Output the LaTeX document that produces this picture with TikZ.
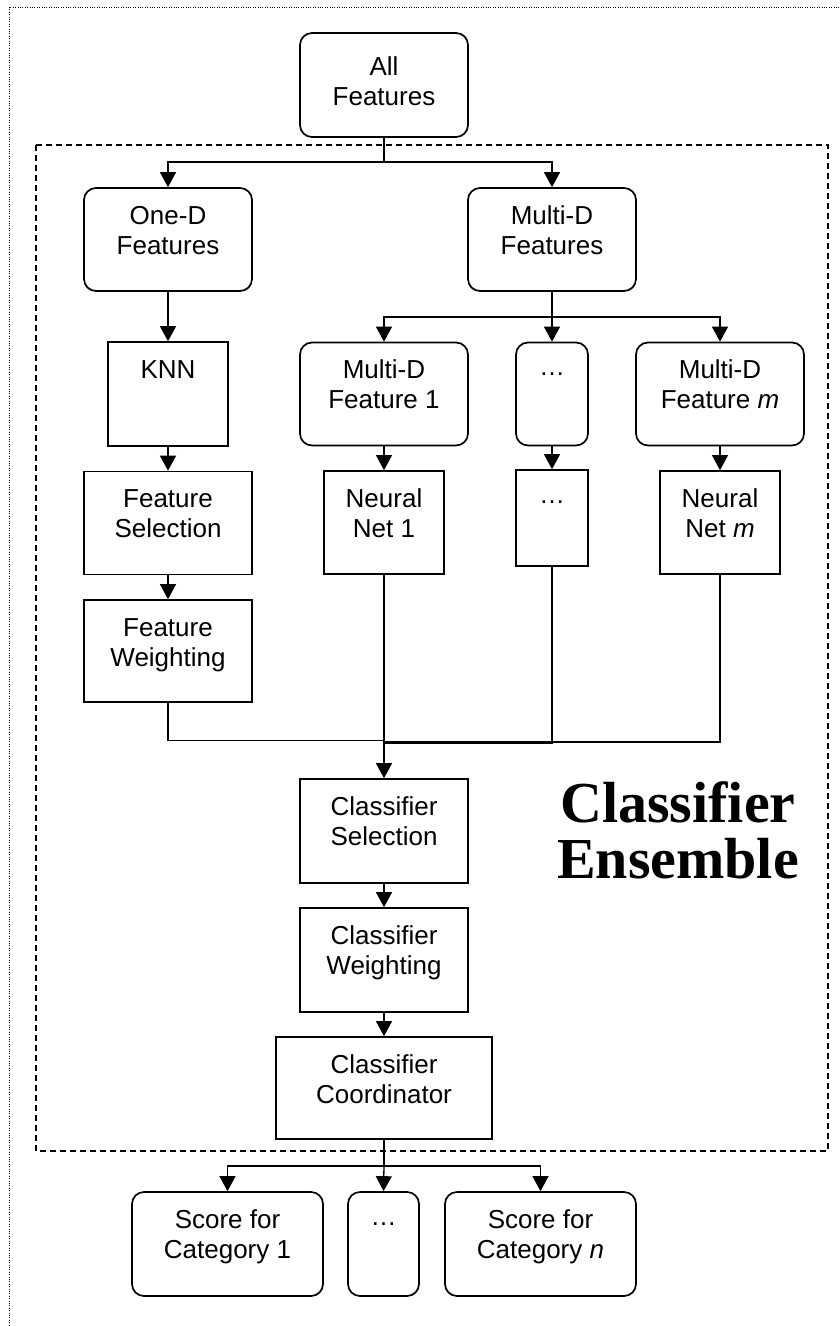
\documentclass[tikz,border=0pt]{standalone}
\usepackage{fontspec}
\setmainfont{Liberation Sans}
\newfontfamily\timesbf{Liberation Serif}[BoldFont={Liberation Serif Bold}]
\usetikzlibrary{arrows.meta,calc}
\newcommand\tl[1]{\begin{tabular}[t]{@{}c@{}}#1\end{tabular}}
\begin{document}
\begin{tikzpicture}[x=1pt,y=-1pt,
  every node/.style={inner sep=0pt},
  sqbox/.style={draw, line width=1.7pt},
  rbox/.style={draw, line width=1.7pt, rounded corners=12pt},
  txt/.style={anchor=base, font=\fontsize{26}{30}\selectfont},
  conn/.style={line width=1.3pt},
  arr/.style={line width=1.3pt, -{Triangle[length=15pt,width=16pt]}}
]
\useasboundingbox (0,0) rectangle (840,1326);
% outer dotted frame (cropped at right and bottom)
\draw[line width=0.9pt, dash pattern=on 1pt off 1.4pt] (9,1340) -- (9,7) -- (850,7);
% dashed ensemble frame
\draw[line width=1.2pt, dash pattern=on 6pt off 4pt] (36,145) rectangle (828,1151);

% boxes
\node[rbox, minimum width=168pt, minimum height=104pt] (af) at (384,85) {};
\node[rbox, minimum width=168pt, minimum height=103pt] (od) at (168,239.5) {};
\node[rbox, minimum width=168pt, minimum height=103pt] (md) at (552,239.5) {};
\node[sqbox, minimum width=120pt, minimum height=104pt] (knn) at (168,394) {};
\node[rbox, minimum width=168pt, minimum height=103pt] (mf1) at (384,394) {};
\node[rbox, minimum width=72pt, minimum height=103pt] (mfd) at (552,394) {};
\node[rbox, minimum width=168pt, minimum height=103pt] (mfm) at (720,394) {};
\node[sqbox, minimum width=168pt, minimum height=103pt] (fs) at (168,523) {};
\node[sqbox, minimum width=120pt, minimum height=103pt] (nn1) at (384,522.5) {};
\node[sqbox, minimum width=72pt, minimum height=96pt] (nnd) at (552,518) {};
\node[sqbox, minimum width=120pt, minimum height=103pt] (nnm) at (720,522.5) {};
\node[sqbox, minimum width=168pt, minimum height=102pt] (fw) at (168,651) {};
\node[sqbox, minimum width=168pt, minimum height=104pt] (cs) at (384,831) {};
\node[sqbox, minimum width=168pt, minimum height=104pt] (cw) at (384,960) {};
\node[sqbox, minimum width=216pt, minimum height=102pt] (cc) at (384,1088) {};
\node[rbox, minimum width=191pt, minimum height=104pt] (s1) at (227.5,1244) {};
\node[rbox, minimum width=71pt, minimum height=104pt] (sd) at (383.5,1244) {};
\node[rbox, minimum width=191pt, minimum height=104pt] (sn) at (540.5,1244) {};

% texts (first baseline about 37 below box top)
\node[txt] (af-t) at ($(af.north)+(0,43)$) {\tl{All\\Features}};
\node[txt] (od-t) at ($(od.north)+(0,37)$) {\tl{One-D\\Features}};
\node[txt] (md-t) at ($(md.north)+(0,37)$) {\tl{Multi-D\\Features}};
\node[txt] (knn-t) at ($(knn.north)+(0,37)$) {\tl{KNN}};
\node[txt] (mf1-t) at ($(mf1.north)+(0,37)$) {\tl{Multi-D\\Feature 1}};
\node[txt] (mfd-t) at ($(mfd.north)+(0,34)$) {\tl{…}};
\node[txt] (mfm-t) at ($(mfm.north)+(0,37)$) {\tl{Multi-D\\Feature \textit{m}}};
\node[txt] (fs-t) at ($(fs.north)+(0,37)$) {\tl{Feature\\Selection}};
\node[txt] (nn1-t) at ($(nn1.north)+(0,37)$) {\tl{Neural\\Net 1}};
\node[txt] (nnd-t) at ($(nnd.north)+(0,34)$) {\tl{…}};
\node[txt] (nnm-t) at ($(nnm.north)+(0,37)$) {\tl{Neural\\Net \textit{m}}};
\node[txt] (fw-t) at ($(fw.north)+(0,37)$) {\tl{Feature\\Weighting}};
\node[txt] (cs-t) at ($(cs.north)+(0,37)$) {\tl{Classifier\\Selection}};
\node[txt] (cw-t) at ($(cw.north)+(0,37)$) {\tl{Classifier\\Weighting}};
\node[txt] (cc-t) at ($(cc.north)+(0,37)$) {\tl{Classifier\\Coordinator}};
\node[txt] (s1-t) at ($(s1.north)+(0,37)$) {\tl{Score for\\Category 1}};
\node[txt] (sd-t) at ($(sd.north)+(0,34)$) {\tl{…}};
\node[txt] (sn-t) at ($(sn.north)+(0,37)$) {\tl{Score for\\Category \textit{n}}};

% big label
\node[anchor=base, font=\timesbf\bfseries\fontsize{58}{54}\selectfont] (ens) at (678,822) {\tl{Classifier\\Ensemble}};

% junctions
\coordinate (tj) at (384,162);
\coordinate (mj) at (552,317);
\coordinate (mg) at (384,741);
\coordinate (bj) at (384,1166);

% connectors
\draw[conn] (af.south) -- (tj);
\draw[arr] (tj) -| (od.north);
\draw[arr] (tj) -| (md.north);
\draw[arr] (od.south) -- (knn.north);
\draw[arr] (knn.south) -- (fs.north);
\draw[arr] (fs.south) -- (fw.north);
\draw[conn] (md.south) -- (mj);
\draw[arr] (mj) -| (mf1.north);
\draw[arr] (mj) -- (mfd.north);
\draw[arr] (mj) -| (mfm.north);
\draw[arr] (mf1.south) -- (nn1.north);
\draw[arr] (mfd.south) -- (nnd.north);
\draw[arr] (mfm.south) -- (nnm.north);
% merge
\draw[conn] (fw.south) |- ($(mg)+(0,-0.5)$);
\draw[conn] (nn1.south) -- (mg);
\draw[conn] (nnd.south) |- ($(mg)+(0,2.2)$);
\draw[conn] (nnm.south) |- ($(mg)+(0,1)$);
\draw[arr] (mg) -- (cs.north);
\draw[arr] (cs.south) -- (cw.north);
\draw[arr] (cw.south) -- (cc.north);
% outputs
\draw[conn] (cc.south) -- (bj);
\draw[arr] (bj) -| (s1.north);
\draw[arr] (bj) -- (sd.north);
\draw[arr] (bj) -| (sn.north);
\end{tikzpicture}
\end{document}
